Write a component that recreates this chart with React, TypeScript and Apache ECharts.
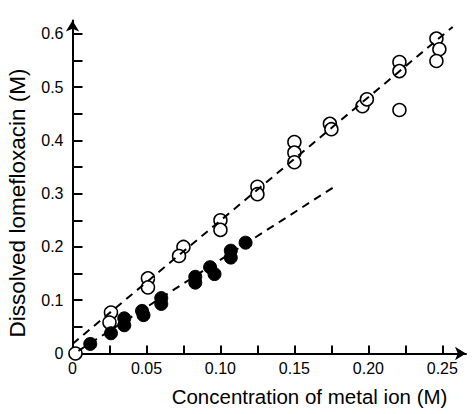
import React, { useEffect, useRef } from "react";
import * as echarts from "echarts";

const openX = [0.002, 0.026, 0.025, 0.051, 0.051, 0.075, 0.072, 0.1, 0.1, 0.125, 0.125, 0.15, 0.15, 0.15, 0.174, 0.175, 0.196, 0.199, 0.221, 0.221, 0.221, 0.246, 0.248, 0.246];
const openY = [0.0, 0.077, 0.058, 0.141, 0.124, 0.2, 0.183, 0.25, 0.232, 0.313, 0.299, 0.397, 0.377, 0.359, 0.431, 0.421, 0.464, 0.477, 0.547, 0.53, 0.457, 0.591, 0.571, 0.549];

const filledX = [0.012, 0.026, 0.035, 0.035, 0.047, 0.048, 0.06, 0.06, 0.083, 0.083, 0.093, 0.096, 0.107, 0.107, 0.117];
const filledY = [0.018, 0.038, 0.066, 0.053, 0.08, 0.072, 0.104, 0.093, 0.144, 0.133, 0.162, 0.149, 0.193, 0.18, 0.208];

const openFitX = [0.0, 0.257];
const openFitY = [0.018, 0.613];
const filledFitX = [0.004, 0.177];
const filledFitY = [0.005, 0.313];

const xTickValues = [0, 0.025, 0.05, 0.075, 0.1, 0.125, 0.15, 0.175, 0.2, 0.225, 0.25];
const xLabelValues = [0, 0.05, 0.1, 0.15, 0.2, 0.25];
const xTickLabels = ["0", "0.05", "0.10", "0.15", "0.20", "0.25"];

const yTickValues = [0, 0.05, 0.1, 0.15, 0.2, 0.25, 0.3, 0.35, 0.4, 0.45, 0.5, 0.55, 0.6];
const yLabelValues = [0, 0.1, 0.2, 0.3, 0.4, 0.5, 0.6];
const yTickLabels = ["0", "0.1", "0.2", "0.3", "0.4", "0.5", "0.6"];

const xTitle = "Concentration of metal ion (M)";
const yTitle = "Dissolved lomefloxacin (M)";

const FONT = "'Liberation Sans', Arial, Helvetica, sans-serif";

function pick(values: number[], labels: string[], v: number): string {
  const i = values.findIndex((x) => Math.abs(x - v) < 1e-9);
  return i >= 0 ? labels[i] : "";
}

export default function App() {
  const ref = useRef<HTMLDivElement>(null);
  useEffect(() => {
    if (!ref.current) return;
    const chart = echarts.init(ref.current, null, { renderer: "svg" });
    const zip = (xs: number[], ys: number[]) => xs.map((x, i) => [x, ys[i]]);
    chart.setOption({
      animation: false,
      backgroundColor: "#ffffff",
      grid: { left: 72.5, right: 7, top: 20.5, bottom: 60.5, containLabel: false },
      xAxis: {
        type: "value",
        min: 0,
        max: 0.266,
        splitLine: { show: false },
        axisLine: {
          show: true,
          onZero: false,
          symbol: ["none", "arrow"],
          symbolSize: [10, 11],
          lineStyle: { color: "#000", width: 2 },
        },
        axisTick: {
          show: true,
          inside: true,
          length: 8,
          customValues: xTickValues,
          lineStyle: { color: "#000", width: 2 },
        },
        axisLabel: {
          show: true,
          customValues: xLabelValues,
          margin: 7,
          color: "#000",
          fontSize: 16,
          fontFamily: FONT,
          formatter: (v: number) => pick(xLabelValues, xTickLabels, v),
        },
      },
      yAxis: {
        type: "value",
        min: 0,
        max: 0.625,
        splitLine: { show: false },
        axisLine: {
          show: true,
          onZero: false,
          symbol: ["none", "arrow"],
          symbolSize: [10, 11],
          lineStyle: { color: "#000", width: 2 },
        },
        axisTick: {
          show: true,
          inside: true,
          length: 10,
          customValues: yTickValues,
          lineStyle: { color: "#000", width: 2 },
        },
        axisLabel: {
          show: true,
          customValues: yLabelValues,
          margin: 9,
          color: "#000",
          fontSize: 16,
          fontFamily: FONT,
          formatter: (v: number) => pick(yLabelValues, yTickLabels, v),
        },
      },
      graphic: [
        {
          type: "text",
          x: 309.5,
          y: 396,
          style: {
            text: xTitle,
            fontSize: 20.5,
            fontFamily: FONT,
            fill: "#000",
            align: "center",
            verticalAlign: "middle",
          },
        },
        {
          type: "text",
          x: 17,
          y: 203,
          rotation: Math.PI / 2,
          style: {
            text: yTitle,
            fontSize: 22.5,
            fontFamily: FONT,
            fill: "#000",
            align: "center",
            verticalAlign: "middle",
          },
        },
      ],
      series: [
        {
          type: "scatter",
          data: zip(openX, openY),
          symbol: "circle",
          symbolSize: 13,
          itemStyle: { color: "#fff", borderColor: "#000", borderWidth: 1.5, opacity: 1 },
          z: 2,
        },
        {
          type: "scatter",
          data: zip(filledX, filledY),
          symbol: "circle",
          symbolSize: 13,
          itemStyle: { color: "#000", borderColor: "#000", borderWidth: 1, opacity: 1 },
          z: 2,
        },
        {
          type: "line",
          data: zip(openFitX, openFitY),
          showSymbol: false,
          symbol: "none",
          lineStyle: { color: "#000", width: 2, type: [8, 6] },
          z: 3,
        },
        {
          type: "line",
          data: zip(filledFitX, filledFitY),
          showSymbol: false,
          symbol: "none",
          lineStyle: { color: "#000", width: 2, type: [8, 6] },
          z: 3,
        },
      ],
    });
    return () => chart.dispose();
  }, []);
  return (
    <div
      ref={ref}
      style={{ position: "fixed", left: 0, top: 0, width: 473, height: 414, background: "#fff" }}
    />
  );
}
